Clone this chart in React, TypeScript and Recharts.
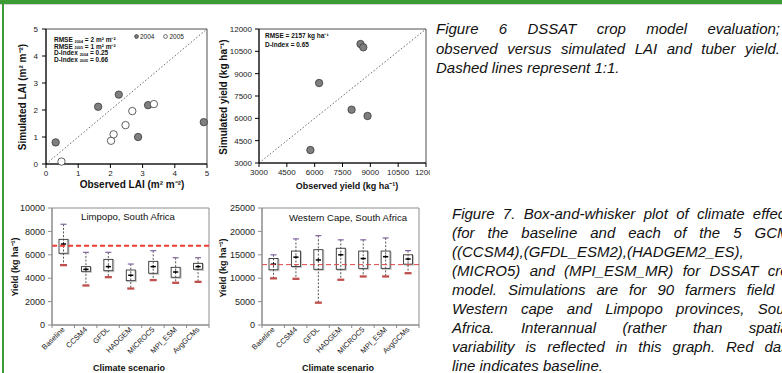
import React from 'react';
import {
  ScatterChart,
  Scatter,
  XAxis,
  YAxis,
  ReferenceLine,
  ReferenceArea,
  ComposedChart,
  Bar,
  Legend,
} from 'recharts';

const FONT = "'Liberation Sans', Arial, Helvetica, sans-serif";

// ---------- Figure 6 data ----------
const laiTicks = [0, 1, 2, 3, 4, 5];
const lai2004 = [
  { x: 0.3, y: 0.8 },
  { x: 1.62, y: 2.12 },
  { x: 2.26, y: 2.57 },
  { x: 2.86, y: 1.0 },
  { x: 3.17, y: 2.18 },
  { x: 4.9, y: 1.55 },
];
const lai2005 = [
  { x: 0.48, y: 0.09 },
  { x: 2.02, y: 0.86 },
  { x: 2.1, y: 1.1 },
  { x: 2.47, y: 1.44 },
  { x: 2.68, y: 1.96 },
  { x: 3.35, y: 2.22 },
];
const laiSeries = [
  { name: '2004', fill: '#7f7f7f' },
  { name: '2005', fill: '#ffffff' },
];

const yieldTicks = [3000, 4500, 6000, 7500, 9000, 10500, 12000];
const yieldPoints = [
  { x: 5770, y: 3870 },
  { x: 6240, y: 8370 },
  { x: 7990, y: 6580 },
  { x: 8470, y: 10990 },
  { x: 8620, y: 10770 },
  { x: 8850, y: 6160 },
];

// ---------- Figure 7 data ----------
const scenarios = ['Baseline', 'CCSM4', 'GFDL', 'HADGEM', 'MICROC5', 'MPI_ESM', 'AvgGCMs'];

const limpopoLow = [5130, 3390, 4100, 3130, 3850, 3620, 3700];
const limpopoQ1 = [6130, 4590, 4640, 3790, 4420, 4080, 4760];
const limpopoMedian = [6920, 4760, 4990, 4250, 4990, 4530, 4990];
const limpopoQ3 = [7320, 4990, 5610, 4700, 5440, 4930, 5270];
const limpopoHigh = [8610, 6210, 6210, 5210, 6350, 5750, 5750];
const limpopoBaseline = 6780;
const limpopoTicks = [0, 2000, 4000, 6000, 8000, 10000];

const capeLow = [10000, 9900, 4800, 9700, 10400, 10400, 11100];
const capeQ1 = [11800, 12500, 11900, 11900, 12100, 12100, 13000];
const capeMedian = [13000, 14500, 13900, 15000, 14200, 14600, 14100];
const capeQ3 = [14200, 15800, 16100, 16400, 15800, 15800, 15000];
const capeHigh = [15000, 18400, 19100, 18200, 18200, 18600, 15900];
const capeBaseline = 12900;
const capeTicks = [0, 5000, 10000, 15000, 20000, 25000];

const buildRows = (lo: number[], q1: number[], med: number[], q3: number[], hi: number[]) =>
  scenarios.map((name, i) => ({
    name,
    range: [lo[i], hi[i]],
    low: lo[i],
    q1: q1[i],
    median: med[i],
    q3: q3[i],
    high: hi[i],
  }));

const limpopoRows = buildRows(limpopoLow, limpopoQ1, limpopoMedian, limpopoQ3, limpopoHigh);
const capeRows = buildRows(capeLow, capeQ1, capeMedian, capeQ3, capeHigh);

// ---------- captions ----------
const fig6Lines = [
  'Figure 6 DSSAT crop model evaluation;',
  'observed versus simulated LAI and tuber yield.',
  'Dashed lines represent 1:1.',
];
const fig6Justify = [true, true, false];

const fig7Lines = [
  'Figure 7. Box-and-whisker plot of climate effects',
  '(for the baseline and each of the 5 GCMs',
  '((CCSM4),(GFDL_ESM2),(HADGEM2_ES),',
  '(MICRO5) and (MPI_ESM_MR) for DSSAT crop',
  'model. Simulations are for 90 farmers field in',
  'Western cape and Limpopo provinces, South',
  'Africa. Interannual (rather than spatial)',
  'variability is reflected in this graph. Red dash',
  'line indicates baseline.',
];
const fig7Justify = [true, true, false, true, true, true, true, true, false];

// ---------- shapes ----------
const FilledDot = (p: any) => (
  <circle cx={p.cx} cy={p.cy} r={3.7} fill="#7f7f7f" stroke="#3a3a3a" strokeWidth={0.8} />
);
const OpenDot = (p: any) => (
  <circle cx={p.cx} cy={p.cy} r={3.7} fill="#ffffff" stroke="#3a3a3a" strokeWidth={0.8} />
);

const LaiLegend = (props: any) => (
  <div style={{ display: 'flex', fontFamily: FONT, fontSize: 6.5, color: '#222', whiteSpace: 'nowrap' }}>
    {(props.payload || []).map((e: any, i: number) => {
      const s = laiSeries.find((q) => q.name === e.value) || laiSeries[0];
      return (
        <span key={i} style={{ display: 'flex', alignItems: 'center', marginRight: 9 }}>
          <svg width={5} height={5} style={{ marginRight: 1 }}>
            <circle cx={2.5} cy={2.5} r={1.9} fill={s.fill} stroke="#333" strokeWidth={0.7} />
          </svg>
          {e.value}
        </span>
      );
    })}
  </div>
);

const BoxShape = (props: any) => {
  const { x, y, width, height, payload } = props;
  if (!payload) return null;
  const top = Math.min(y, y + height);
  const h = Math.abs(height);
  const lo = payload.low;
  const hi = payload.high;
  const py = (v: number) => top + ((hi - v) / (hi - lo)) * h;
  const cx = x + width / 2;
  const yq1 = py(payload.q1);
  const yq3 = py(payload.q3);
  const ym = py(payload.median);
  return (
    <g>
      <rect x={x + 1} y={yq3 + 1} width={width} height={yq1 - yq3} fill="none" stroke="#c4c4c4" strokeWidth={1} />
      <rect x={x} y={yq3} width={width} height={yq1 - yq3} fill="#ffffff" stroke="#333" strokeWidth={0.9} />
      <line x1={cx} x2={cx} y1={py(hi)} y2={py(lo)} stroke="#444" strokeWidth={0.9} strokeDasharray="2 1.6" />
      <line x1={cx - 2.6} x2={cx + 2.6} y1={ym} y2={ym} stroke="#000" strokeWidth={1.5} />
      <line x1={cx} x2={cx} y1={ym - 1.5} y2={ym + 1.5} stroke="#000" strokeWidth={0.8} />
      <line x1={cx - 3} x2={cx + 3} y1={py(hi)} y2={py(hi)} stroke="#8064a2" strokeWidth={1.2} />
      <rect x={cx - 3.5} y={py(lo) - 1} width={7} height={2.3} fill="#c0504d" />
    </g>
  );
};

const PLOT_W = 157;
const BAND = PLOT_W / scenarios.length;

const ScenarioTick = (props: any) => {
  const { x, y, payload, index } = props;
  const half = payload && payload.offset > 0 ? payload.offset : BAND / 2;
  return (
    <g>
      <line x1={x - half} x2={x - half} y1={y} y2={y + 3} stroke="#888" />
      {index === scenarios.length - 1 && <line x1={x + half} x2={x + half} y1={y} y2={y + 3} stroke="#888" />}
      <text
        transform={`translate(${x + 2},${y + 5}) rotate(-45)`}
        textAnchor="end"
        fontSize={7.5}
        fontFamily={FONT}
        fill="#222"
      >
        {payload.value}
      </text>
    </g>
  );
};

const tick8 = { fontSize: 8, fill: '#222', fontFamily: FONT };
const tick9 = { fontSize: 9, fill: '#222', fontFamily: FONT };

const BoxChart = ({ rows, ticks, baseline, lineW, lineColor, dash }: any) => (
  <ComposedChart width={215} height={183} data={rows} margin={{ top: 18, right: 6, bottom: 0, left: 10 }}>
    <ReferenceArea
      x1={scenarios[0]}
      x2={scenarios[scenarios.length - 1]}
      y1={ticks[0]}
      y2={ticks[ticks.length - 1]}
      fill="none"
      fillOpacity={0}
      stroke="#8c8c8c"
      strokeWidth={1}
    />
    <XAxis
      dataKey="name"
      type="category"
      height={48}
      tickSize={0}
      tickMargin={0}
      tickLine={false}
      interval={0}
      stroke="#8c8c8c"
      tick={<ScenarioTick />}
    />
    <YAxis
      type="number"
      domain={[ticks[0], ticks[ticks.length - 1]]}
      ticks={ticks}
      width={42}
      tickSize={4}
      tickMargin={3}
      stroke="#8c8c8c"
      tick={tick9}
      interval={0}
    />
    <Bar dataKey="range" barSize={9} shape={BoxShape} isAnimationActive={false} />
    <ReferenceLine y={baseline} stroke={lineColor} strokeWidth={lineW} strokeDasharray={dash} />
  </ComposedChart>
);

const Overlay = () => (
  <svg width={782} height={373} style={{ position: 'absolute', left: 0, top: 0, pointerEvents: 'none' }} fontFamily={FONT}>
    {/* Chart 1 titles */}
    <text x={22} y={97} transform="rotate(-90 22 97)" textAnchor="middle" dominantBaseline="central" fontSize={10} fontWeight="bold" fill="#111">
      Simulated LAI  (m² m⁻²)
    </text>
    <text x={132} y={184} textAnchor="middle" dominantBaseline="central" fontSize={10} fontWeight="bold" fill="#111">
      Observed LAI (m² m⁻²)
    </text>
    <g fontSize={6.5} fontWeight="bold" fill="#111">
      <text x={54} y={42}>
        RMSE <tspan fontSize={3.8} dy={0.8}>2004</tspan>
        <tspan dy={-0.8}> = 2 m² m⁻²</tspan>
      </text>
      <text x={54} y={48.5}>
        RMSE <tspan fontSize={3.8} dy={0.8}>2005</tspan>
        <tspan dy={-0.8}> = 1 m² m⁻²</tspan>
      </text>
      <text x={54} y={55}>
        D-Index <tspan fontSize={3.8} dy={0.8}>2004</tspan>
        <tspan dy={-0.8}> =  0.25</tspan>
      </text>
      <text x={54} y={61.5}>
        D-Index <tspan fontSize={3.8} dy={0.8}>2005</tspan>
        <tspan dy={-0.8}> =  0.66</tspan>
      </text>
    </g>
    {/* Chart 2 titles */}
    <text x={223} y={97} transform="rotate(-90 223 97)" textAnchor="middle" dominantBaseline="central" fontSize={10} fontWeight="bold" fill="#111">
      Simulated yield (kg ha⁻¹)
    </text>
    <text x={347} y={186} textAnchor="middle" dominantBaseline="central" fontSize={9} fontWeight="bold" fill="#111">
      Observed yield (kg ha⁻¹)
    </text>
    <g fontSize={6.5} fontWeight="bold" fill="#111">
      <text x={265} y={37.5}>RMSE = 2157 kg ha⁻¹</text>
      <text x={265} y={47}>D-Index =  0.65</text>
    </g>
    {/* Chart 3 titles */}
    <text x={128} y={216.5} textAnchor="middle" dominantBaseline="central" fontSize={9.6} fill="#111">
      Limpopo, South Africa
    </text>
    <text x={15} y={267} transform="rotate(-90 15 267)" textAnchor="middle" dominantBaseline="central" fontSize={9} fontWeight="bold" fill="#111">
      Yield (kg ha⁻¹)
    </text>
    <text x={129} y={367.5} textAnchor="middle" dominantBaseline="central" fontSize={9} fontWeight="bold" fill="#111">
      Climate scenario
    </text>
    {/* Chart 4 titles */}
    <text x={348} y={217} textAnchor="middle" dominantBaseline="central" fontSize={9.6} fill="#111">
      Western Cape, South Africa
    </text>
    <text x={223} y={268} transform="rotate(-90 223 268)" textAnchor="middle" dominantBaseline="central" fontSize={9} fontWeight="bold" fill="#111">
      Yield (kg ha⁻¹)
    </text>
    <text x={338} y={367.5} textAnchor="middle" dominantBaseline="central" fontSize={9} fontWeight="bold" fill="#111">
      Climate scenario
    </text>
  </svg>
);

const Caption = ({ lines, justify, left, top, width, lineHeight }: any) => (
  <div
    style={{
      position: 'absolute',
      left,
      top,
      width,
      fontFamily: FONT,
      fontStyle: 'italic',
      fontSize: 15,
      lineHeight: `${lineHeight}px`,
      color: '#111',
    }}
  >
    {lines.map((t: string, i: number) => (
      <div key={i} style={{ textAlign: 'justify', textAlignLast: justify[i] ? 'justify' : 'left' }}>
        {t}
      </div>
    ))}
  </div>
);

export default function App() {
  return (
    <div
      style={{
        position: 'absolute',
        left: 0,
        top: 0,
        width: 782,
        height: 373,
        overflow: 'hidden',
        background: '#ffffff',
        fontFamily: FONT,
      }}
    >
      <div style={{ position: 'absolute', left: 0, top: 0, width: 782, height: 4, background: '#3c9b35' }} />
      <div style={{ position: 'absolute', left: 0, top: 4, width: 782, height: 1, background: '#d6d6d6' }} />
      <div style={{ position: 'absolute', left: 2, top: 0, width: 2, height: 373, background: '#3c9b35' }} />

      {/* Chart 1: LAI */}
      <div style={{ position: 'absolute', left: 0, top: 0 }}>
        <ScatterChart width={215} height={192} margin={{ top: 29, right: 8, bottom: 14, left: 16 }}>
          <ReferenceArea x1={0} x2={5} y1={0} y2={5} fill="none" fillOpacity={0} stroke="#222" strokeWidth={0.8} />
          <XAxis type="number" dataKey="x" domain={[0, 5]} ticks={laiTicks} height={14} tickSize={4} tickMargin={2} stroke="#000" tick={tick8} interval={0} />
          <YAxis type="number" dataKey="y" domain={[0, 5]} ticks={laiTicks} width={30} tickSize={4} tickMargin={4} stroke="#000" tick={tick8} interval={0} />
          <ReferenceLine segment={[{ x: 0, y: 0 }, { x: 5, y: 5 }]} stroke="#555" strokeWidth={0.9} strokeDasharray="1.5 2" />
          <Legend
            content={<LaiLegend />}
            layout="horizontal"
            verticalAlign="middle"
            align="center"
            wrapperStyle={{ top: 33, left: 134, width: 'auto', height: 'auto' }}
          />
          <Scatter name="2004" data={lai2004} fill="#7f7f7f" shape={FilledDot} isAnimationActive={false} />
          <Scatter name="2005" data={lai2005} fill="#ffffff" shape={OpenDot} isAnimationActive={false} />
        </ScatterChart>
      </div>

      {/* Chart 2: tuber yield */}
      <div style={{ position: 'absolute', left: 215, top: 0 }}>
        <ScatterChart width={215} height={192} margin={{ top: 29, right: 4, bottom: 15, left: 10 }}>
          <ReferenceArea x1={3000} x2={12000} y1={3000} y2={12000} fill="none" fillOpacity={0} stroke="#222" strokeWidth={0.8} />
          <XAxis type="number" dataKey="x" domain={[3000, 12000]} ticks={yieldTicks} height={14} tickSize={4} tickMargin={2} stroke="#000" tick={tick8} interval={0} />
          <YAxis type="number" dataKey="y" domain={[3000, 12000]} ticks={yieldTicks} width={34} tickSize={4} tickMargin={3} stroke="#000" tick={tick8} interval={0} />
          <ReferenceLine segment={[{ x: 3000, y: 3000 }, { x: 12000, y: 12000 }]} stroke="#555" strokeWidth={0.9} strokeDasharray="1.5 2" />
          <Scatter name="Yield" data={yieldPoints} fill="#7f7f7f" shape={FilledDot} isAnimationActive={false} />
        </ScatterChart>
      </div>

      {/* Chart 3: Limpopo */}
      <div style={{ position: 'absolute', left: 0, top: 190 }}>
        <BoxChart rows={limpopoRows} ticks={limpopoTicks} baseline={limpopoBaseline} lineW={2} lineColor="#f23a3a" dash="5 3" />
      </div>

      {/* Chart 4: Western Cape */}
      <div style={{ position: 'absolute', left: 210, top: 190 }}>
        <BoxChart rows={capeRows} ticks={capeTicks} baseline={capeBaseline} lineW={1} lineColor="#e04444" dash="5 3" />
      </div>

      <Overlay />

      <Caption lines={fig6Lines} justify={fig6Justify} left={436} top={19} width={344} lineHeight={19.5} />
      <Caption lines={fig7Lines} justify={fig7Justify} left={452} top={204} width={345} lineHeight={19} />
    </div>
  );
}
